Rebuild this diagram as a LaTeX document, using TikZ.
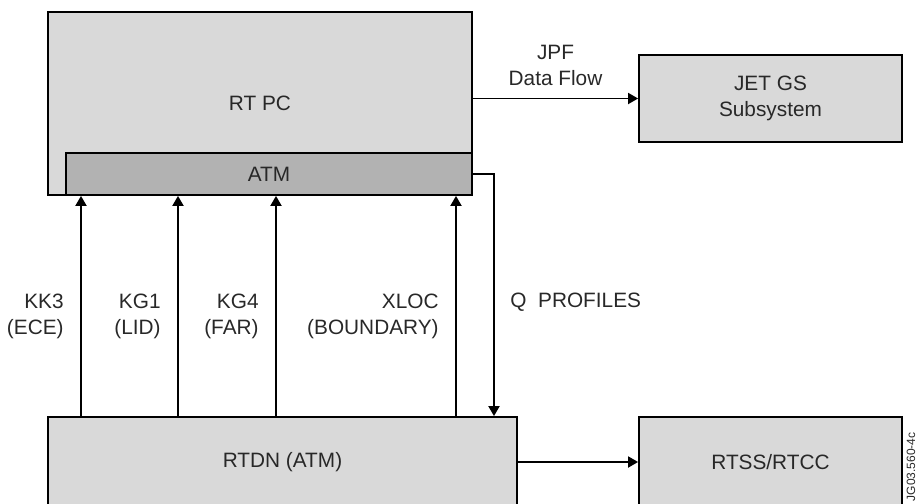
\documentclass[tikz,border=0pt]{standalone}
\usepackage{fontspec}
\setmainfont{Liberation Sans}
\usetikzlibrary{arrows.meta,positioning}
\definecolor{boxgray}{RGB}{217,217,217}
\definecolor{atmgray}{RGB}{178,178,178}
\definecolor{labelgray}{RGB}{40,40,40}

\begin{document}
\begin{tikzpicture}[
  x=0.5pt,y=-0.5pt,
  font=\fontsize{10.4}{13}\selectfont,
  block/.style={rectangle,draw=black,line width=0.9pt,fill=boxgray,text=labelgray,inner sep=0pt,align=center},
  lbl/.style={text=labelgray,inner sep=0pt,align=right},
  arrow/.style={-{Triangle[length=5pt,width=5.5pt]},line width=0.9pt,draw=black}]
  \useasboundingbox (0,0) rectangle (918,504);
  \node[block,minimum width=212pt,minimum height=91.5pt] (rtpc) at (260,103.5) {RT PC};
  \node[block,fill=atmgray,minimum width=203pt,minimum height=21pt,anchor=south east] (atm) at (rtpc.south east) {ATM};
  \node[block,minimum width=131.5pt,minimum height=43.5pt] (jet) at (770.5,98.5) {JET GS\\Subsystem};
  \node[block,minimum width=234.5pt,minimum height=45pt] (rtdn) at (282.5,462) {RTDN (ATM)};
  \node[block,minimum width=131.5pt,minimum height=45pt] (rtss) at (770.5,462) {RTSS/RTCC};
  \draw[arrow] (rtpc.east |- jet.west) -- node[lbl,align=center,above=6pt] (jpf) {JPF\\Data Flow} (jet.west);
  \draw[arrow] (rtdn) -- (rtss);
  \foreach \xx/\name/\code/\unit in {81/kkthree/KK3/ECE,178/kgone/KG1/LID,276/kgfour/KG4/FAR,456/xloc/XLOC/BOUNDARY} {
    \draw[arrow] (rtdn.north -| \xx,0) -- (atm.south -| \xx,0);
    \node[lbl,anchor=east] (\name) at (\xx-17,316) {\code\\(\unit)};
  }
  \coordinate (qturn) at (atm.east -| 494,0);
  \draw[arrow] (atm.east) -- (qturn) -- (qturn |- rtdn.north);
  \node[lbl,anchor=west] (qprof) at (510,302) {Q\ \ PROFILES};
  \node[text=labelgray,font=\fontsize{6}{7}\selectfont,rotate=90,anchor=east,inner sep=0pt] (figid) at (911,432) {JG03.560-4c};
\end{tikzpicture}
\end{document}
